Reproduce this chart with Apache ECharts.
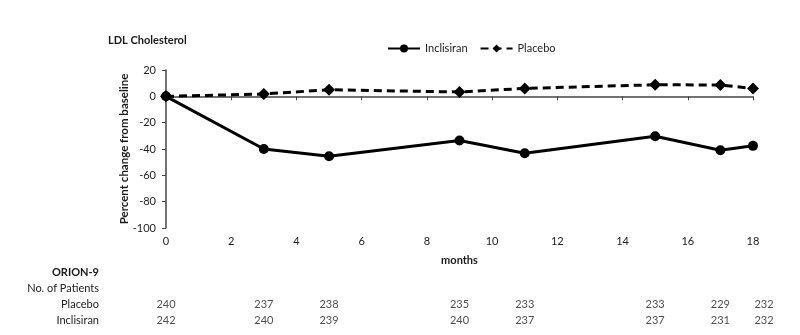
<!DOCTYPE html>
<html><head><meta charset="utf-8">
<script src="https://cdn.jsdelivr.net/npm/echarts@6/dist/echarts.min.js"></script>
<style>html,body{margin:0;padding:0;background:#fff}#c{width:800px;height:335px}</style>
</head><body><div id="c"></div>
<script>
const months = [0, 3, 5, 9, 11, 15, 17, 18];
const inclisiran = [0, -40, -45.5, -33.6, -43.2, -30.3, -40.9, -37.6];
const placebo = [0, 1.8, 5, 3.3, 6, 8.8, 8.6, 6];
const nPlacebo = [240, 237, 238, 235, 233, 233, 229, 232];
const nInclisiran = [242, 240, 239, 240, 237, 237, 231, 232];
const rowLabels = ['ORION-9', 'No. of Patients', 'Placebo', 'Inclisiran'];

const FONT = 'Lato';
const pair = (xs, ys) => xs.map((x, i) => [x, ys[i]]);
const tableData = [];
months.forEach((m, i) => {
  const lab = i === months.length - 1 ? {offset: [11, 0]} : {};
  tableData.push({value: [m, 'Placebo', nPlacebo[i]], label: lab});
  tableData.push({value: [m, 'Inclisiran', nInclisiran[i]], label: lab});
});

const chart = echarts.init(document.getElementById('c'), null, {renderer: 'canvas'});
chart.setOption({
  animation: false,
  textStyle: {fontFamily: FONT},
  title: {text: 'LDL Cholesterol', left: 103, top: 30,
    textStyle: {fontFamily: FONT, fontSize: 11, fontWeight: 'bold', color: '#1a1a1a'}},
  legend: {
    left: 382, top: 38, itemWidth: 32, itemHeight: 10, itemGap: 12,
    textStyle: {fontFamily: FONT, fontSize: 11, color: '#222'},
    data: ['Inclisiran', 'Placebo']
  },
  grid: [
    {left: 166, right: 47, top: 70, bottom: 107},
    {left: 166, right: 47, top: 264, bottom: 7}
  ],
  xAxis: [
    {gridIndex: 0, type: 'value', min: 0, max: 18, interval: 2,
      name: 'months', nameLocation: 'middle', nameGap: 27,
      nameTextStyle: {fontFamily: FONT, fontSize: 11, fontWeight: 'bold', color: '#1a1a1a'},
      axisLine: {lineStyle: {color: '#444', width: 1.5}},
      axisTick: {show: true, length: 4, lineStyle: {color: '#444'}},
      axisLabel: {fontFamily: FONT, fontSize: 11, color: '#222', margin: 8},
      splitLine: {show: false}},
    {gridIndex: 1, type: 'value', min: 0, max: 18, show: false}
  ],
  yAxis: [
    {gridIndex: 0, type: 'value', min: -100, max: 20, interval: 20,
      name: 'Percent change from baseline', nameLocation: 'middle', nameGap: 36,
      nameMoveOverlap: false,
      nameTextStyle: {fontFamily: FONT, fontSize: 11.5, fontWeight: 'bold', color: '#1a1a1a'},
      axisLine: {show: true, lineStyle: {color: '#444', width: 1.5}},
      axisTick: {show: true, length: 4, lineStyle: {color: '#444'}},
      axisLabel: {fontFamily: FONT, fontSize: 11, color: '#222', margin: 10},
      splitLine: {show: false}},
    {gridIndex: 1, type: 'category', inverse: true, data: rowLabels,
      axisLine: {show: false}, axisTick: {show: false},
      axisLabel: {margin: 67, fontFamily: FONT, fontSize: 11, color: '#222',
        formatter: v => v === 'ORION-9' ? '{b|' + v + '}' : v,
        rich: {b: {fontFamily: FONT, fontSize: 11, fontWeight: 'bold', color: '#1a1a1a'}}}}
  ],
  series: [
    {name: 'Inclisiran', type: 'line', xAxisIndex: 0, yAxisIndex: 0,
      data: pair(months, inclisiran), symbol: 'circle', symbolSize: 10,
      lineStyle: {color: '#000', width: 3}, itemStyle: {color: '#000'}},
    {name: 'Placebo', type: 'line', xAxisIndex: 0, yAxisIndex: 0,
      data: pair(months, placebo), symbol: 'diamond', symbolSize: 12,
      lineStyle: {color: '#000', width: 3, type: [8, 5]}, itemStyle: {color: '#000'}},
    {name: 'table', type: 'scatter', xAxisIndex: 1, yAxisIndex: 1,
      data: tableData, symbolSize: 0, encode: {x: 0, y: 1}, silent: true,
      label: {show: true, position: 'inside', formatter: p => p.value[2],
        fontFamily: FONT, fontSize: 11, color: '#222'}}
  ]
});
</script></body></html>
